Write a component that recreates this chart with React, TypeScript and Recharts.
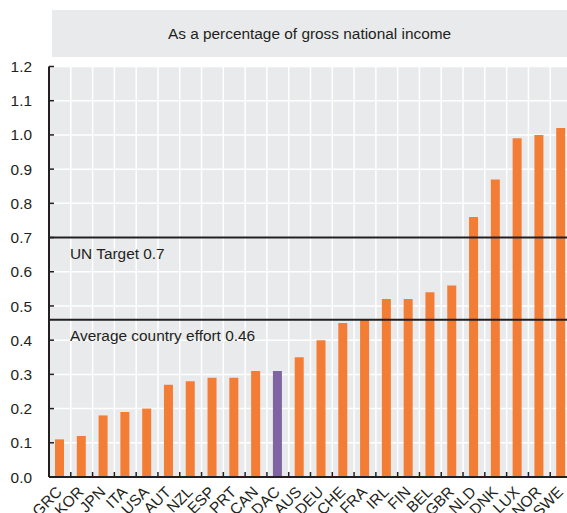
import React from 'react';
import { BarChart, Bar, XAxis, YAxis, CartesianGrid, ReferenceLine, Cell } from 'recharts';

// Net ODA, % of GNI
const countries = [
  'GRC', 'KOR', 'JPN', 'ITA', 'USA', 'AUT', 'NZL', 'ESP', 'PRT', 'CAN', 'DAC', 'AUS',
  'DEU', 'CHE', 'FRA', 'IRL', 'FIN', 'BEL', 'GBR', 'NLD', 'DNK', 'LUX', 'NOR', 'SWE',
];
const odaShare = [
  0.11, 0.12, 0.18, 0.19, 0.2, 0.27, 0.28, 0.29, 0.29, 0.31, 0.31, 0.35,
  0.4, 0.45, 0.46, 0.52, 0.52, 0.54, 0.56, 0.76, 0.87, 0.99, 1.0, 1.02,
];
const yTicks = [0, 0.1, 0.2, 0.3, 0.4, 0.5, 0.6, 0.7, 0.8, 0.9, 1.0, 1.1, 1.2];
const unTarget = 0.7;
const averageEffort = 0.46;

const data = countries.map((c, i) => ({ country: c, value: odaShare[i] }));

const CHART_W = 580;
const CHART_H = 513;
const MARGIN = { top: 66.5, right: 8, bottom: 0, left: 0 };
const Y_AXIS_W = 49;
const X_AXIS_H = 36;
const PLOT_W = CHART_W - MARGIN.left - MARGIN.right - Y_AXIS_W;
const BAND = PLOT_W / countries.length;

const FONT = '"Liberation Sans", Arial, sans-serif';
const FONT_SIZE = 15.4;
const INK = '#231F20';
const ORANGE = '#F47D36';
const PURPLE = '#8064A2';
const PANEL = '#E9EAEC';

const YTick = (props: any) => {
  const { x, y, payload } = props;
  return (
    <g>
      <line x1={x} x2={x + 5} y1={y} y2={y} stroke={INK} strokeWidth={1.5} />
      <text x={x - 17} y={y} dy="0.36em" textAnchor="end" fontSize={FONT_SIZE} fill={INK} fontFamily={FONT}>
        {Number(payload.value).toFixed(1)}
      </text>
    </g>
  );
};

// tick marks sit on the category boundaries, labels slant up to the bar centre
const XTick = (props: any) => {
  const { x, y, payload, index } = props;
  const left = x - BAND / 2;
  return (
    <g>
      {index > 0 && <line x1={left} x2={left} y1={y} y2={y - 5} stroke={INK} strokeWidth={1.5} />}
      <text
        transform={`translate(${x + 3},${y + 16}) rotate(-45)`}
        textAnchor="end"
        fontSize={FONT_SIZE}
        fill={INK}
        fontFamily={FONT}
      >
        {payload.value}
      </text>
    </g>
  );
};

const RefLabel = (props: any) => {
  const { viewBox, text } = props;
  return (
    <text x={viewBox.x + 21} y={viewBox.y + 21} fontSize={FONT_SIZE} fill={INK} fontFamily={FONT}>
      {text}
    </text>
  );
};

export default function App() {
  return (
    <div style={{ position: 'absolute', left: 0, top: 0, width: 567, height: 513, overflow: 'hidden', background: '#fff' }}>
      <div
        style={{
          position: 'absolute',
          left: 52,
          top: 10,
          width: 520,
          height: 47,
          background: PANEL,
          fontFamily: FONT,
          fontSize: FONT_SIZE,
          color: INK,
          lineHeight: '47px',
          textAlign: 'center',
          paddingRight: 5,
          boxSizing: 'border-box',
        }}
      >
        As a percentage of gross national income
      </div>
      <BarChart width={CHART_W} height={CHART_H} data={data} margin={MARGIN} barSize={9}>
        <CartesianGrid
          fill={PANEL}
          stroke="#ffffff"
          strokeWidth={1.5}
          verticalCoordinatesGenerator={({ offset }: any) =>
            countries.slice(1).map((_, i) => offset.left + (i + 1) * (offset.width / countries.length))
          }
        />
        <XAxis
          dataKey="country"
          height={X_AXIS_H}
          interval={0}
          tickLine={false}
          tickSize={0}
          tickMargin={0}
          axisLine={{ stroke: INK, strokeWidth: 2 }}
          tick={<XTick />}
        />
        <YAxis
          width={Y_AXIS_W}
          domain={[0, 1.2]}
          ticks={yTicks}
          interval={0}
          tickLine={false}
          tickSize={0}
          tickMargin={0}
          axisLine={{ stroke: INK, strokeWidth: 2 }}
          tick={<YTick />}
        />
        <Bar dataKey="value" isAnimationActive={false}>
          {data.map((d) => (
            <Cell key={d.country} fill={d.country === 'DAC' ? PURPLE : ORANGE} />
          ))}
        </Bar>
        <ReferenceLine y={unTarget} stroke={INK} strokeWidth={2} label={<RefLabel text="UN Target 0.7" />} />
        <ReferenceLine
          y={averageEffort}
          stroke={INK}
          strokeWidth={2}
          label={<RefLabel text="Average country effort 0.46" />}
        />
      </BarChart>
    </div>
  );
}
